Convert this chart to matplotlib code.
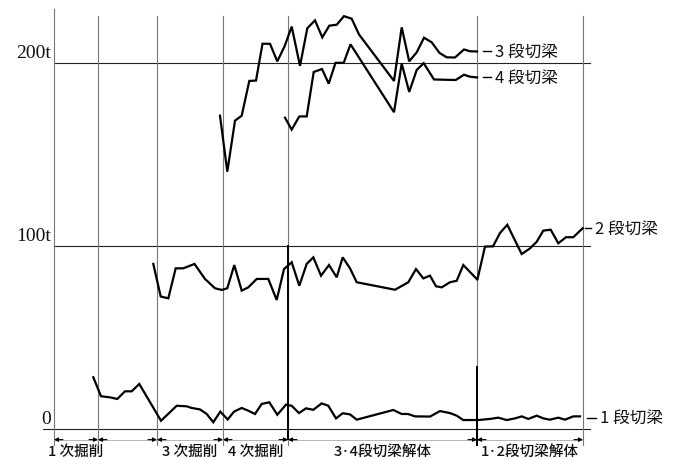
import matplotlib
matplotlib.use("Agg")
import matplotlib.pyplot as plt

plt.rcParams['font.family'] = ['Noto Sans CJK JP', 'DejaVu Sans']

# Axial force of struts (t) against construction progress (elapsed days)
t1 = [39.3, 47, 56, 63.3, 71, 77.7, 85.3, 107, 122.7, 132.7, 137.7, 146, 152.7, 159.3,
      166.3, 173.7, 180, 187.7, 194.3, 201, 207.7, 215.3, 223.3, 232, 237.7, 245, 252,
      259.3, 267.7, 274.3, 282, 288.7, 296, 302.7, 339.3, 347.7, 354, 361, 376, 386, 396,
      402.7, 409.3, 424.3, 436, 444.3, 452.7, 461, 467.7, 474.3, 482.7, 489.3, 496, 504.3,
      511, 519.3, 526]
v1 = [28.3, 17.9, 17.3, 16.4, 20.6, 20.6, 24.6, 4.5, 12.7, 12.4, 11.5, 10.7, 8.2, 3.7,
      9.5, 5.2, 9.5, 11.5, 10.0, 8.2, 13.7, 14.6, 7.8, 13.3, 12.7, 8.7, 11.3,
      10.5, 14.0, 12.7, 5.8, 8.6, 8.0, 5.1, 10.4, 8.2, 8.2, 6.9, 6.8, 9.8, 8.7,
      7.3, 4.9, 4.9, 5.5, 6.2, 4.9, 5.8, 6.9, 5.5, 7.3, 5.8, 5.1, 6.2,
      5.1, 6.9, 6.9]

t2 = [99.3, 106.7, 114.3, 121.7, 129.3, 140.5, 151, 161, 167.7, 173.3, 180.3, 187.7, 194.3,
      202.7, 214.3, 222.7, 230, 237.7, 245.3, 252.7, 259.3, 267, 275, 282.7, 288.7, 296,
      302.7, 341, 354.3, 362, 369.3, 376, 382, 387.7, 396, 402.7, 409.3, 422.7, 423.3,
      431, 439, 446, 453.3, 467.7, 476, 482.7, 489.3, 496.7, 504.3, 512, 519.3, 528.7]
v2 = [90.2, 72.4, 71.4, 87.8, 87.8, 90.2, 82.0, 76.9, 76.0, 76.9, 89.6, 75.6, 77.4,
      82.0, 82.0, 70.5, 87.4, 91.1, 78.3, 90.2, 93.8, 83.8, 89.6, 82.9, 93.8, 87.8,
      80.2, 76.1, 80.2, 87.4, 82.3, 83.8, 78.0, 77.4, 80.2, 81.0, 89.6, 82.0, 81.4,
      99.7, 99.8, 107.1, 111.6, 95.6, 98.7, 102.3, 108.4, 108.9, 101.5, 104.8, 104.8, 109.7]

t3 = [166, 173.3, 181, 187.7, 195.3, 202, 208.5, 216, 223.3, 230.5, 237.7, 246, 253.3,
      261, 268.3, 275.3, 282.7, 290, 297.7, 305, 340, 347.7, 355.2, 362.7, 370, 377.7,
      385.5, 392.7, 401, 410, 416, 423]
v3 = [171.2, 140.6, 168.5, 171.2, 190.2, 190.4, 210.5, 210.5, 200.9, 209.0, 219.9, 198.4,
      219.0, 223.3, 214.0, 220.4, 220.9, 225.6, 224.2, 215.6, 190.2, 219.5, 200.9, 205.8,
      213.8, 211.3, 205.5, 203.1, 203.0, 207.4, 206.4, 206.3]

t4 = [231, 237.7, 245.3, 252.7, 259.7, 268, 274.7, 281.5, 289.7, 296.5, 340, 347.7, 355.2,
      362.7, 369.7, 380, 401.7, 410, 416, 423]
v4 = [170.1, 163.6, 170.8, 170.8, 195.1, 196.7, 188.7, 200.1, 200.1, 210.2, 173.1, 199.7,
      184.2, 196.2, 199.9, 191.0, 190.7, 193.6, 192.5, 192.1]

series_names = ['1 段切梁', '2 段切梁', '3 段切梁', '4 段切梁']
series_t = [t1, t2, t3, t4]
series_v = [v1, v2, v3, v4]

# construction stages
stage_bounds = [0, 44, 103, 169, 234, 423, 529]
stage_labels = ['1 次掘削', '', '3 次掘削', '4 次掘削', '3·4段切梁解体', '1·2段切梁解体']

y_levels = [0, 100, 200]
y_labels = ['0', '100t', '200t']

fig = plt.figure(figsize=(6.84, 4.60), dpi=100)
ax = fig.add_axes([0, 0, 1, 1])
ax.set_xlim(-54, 630)
ax.set_ylim(-16.39, 234.97)
ax.axis('off')

x_end = 536
# horizontal reference lines and their labels
for lv, lab in zip(y_levels, y_labels):
    x0 = -11 if lv == 0 else 0
    ax.plot([x0, x_end], [lv, lv], color='#222222', lw=0.8, zorder=1)
    ax.text(-3, lv + 1.0, lab, ha='right', va='bottom', fontsize=14,
            family=['Liberation Serif', 'DejaVu Serif'], color='#111111')

# stage boundaries
for i, xb in enumerate(stage_bounds):
    top = 229.5 if i == 0 else 225.5
    ax.plot([xb, xb], [-8.5, top], color='#777777', lw=0.8, zorder=1)

# heavier markers at the start of strut removal
ax.plot([234, 234], [-5.5, 100], color='black', lw=1.4, zorder=2)
ax.plot([423, 423], [-9, 34], color='black', lw=1.4, zorder=2)

# stage arrows and labels
ya = -5.8
for a, b, lab in zip(stage_bounds[:-1], stage_bounds[1:], stage_labels):
    ax.plot([a, b], [ya, ya], color='#aaaaaa', lw=0.6, zorder=1)
    for tip, tail in ((a, a + 9), (b, b - 9)):
        ax.annotate('', xy=(tip, ya), xytext=(tail, ya),
                    arrowprops=dict(arrowstyle='-|>', color='black', lw=0.8,
                                    mutation_scale=6, shrinkA=0, shrinkB=0))
    if lab:
        ax.text((a + b) / 2, -12.0, lab, ha='center', va='center', fontsize=10.5,
                fontweight='medium', color='#111111')

# strut force curves
for t, v in zip(series_t, series_v):
    ax.plot(t, v, color='black', lw=1.6, solid_joinstyle='miter', zorder=3)

# end labels with short leaders
label_pos = {
    '3 段切梁': (429, 206.3, 441),
    '4 段切梁': (429, 192.1, 441),
    '2 段切梁': (531, 109.7, 541),
    '1 段切梁': (533, 6.2, 546),
}
for name in series_names:
    x0, yv, xt = label_pos[name]
    ax.plot([x0, xt - 4], [yv, yv], color='black', lw=1.0, zorder=3)
    ax.text(xt, yv, name, ha='left', va='center', fontsize=12, color='#111111')

fig.savefig('out.png', dpi=100, facecolor='white')
